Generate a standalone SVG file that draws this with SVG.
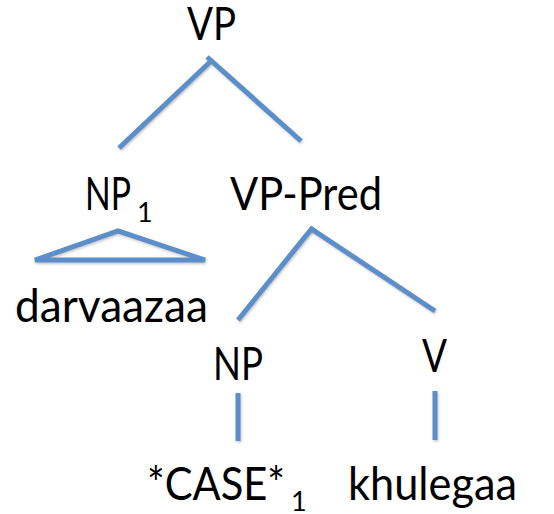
<svg xmlns="http://www.w3.org/2000/svg" width="554" height="514" viewBox="0 0 554 514">
  <style>
    .lbl { font-family: Lato, "Open Sans", "Liberation Sans", sans-serif; font-size: 46px; fill: #000; }
    .sub { font-size: 27px; }
    .edge { stroke: #5B8FC9; stroke-width: 5; fill: none; stroke-linecap: butt; filter: url(#shadow); }
  </style>
  <defs>
    <!-- soft drop shadow under the branches; user-space region so straight vertical lines keep it -->
    <filter id="shadow" filterUnits="userSpaceOnUse" x="0" y="0" width="554" height="514">
      <feDropShadow dx="1" dy="1.5" stdDeviation="1" flood-color="#808080" flood-opacity="0.45"/>
    </filter>
  </defs>
  <rect width="554" height="514" fill="#fff"/>

  <g id="connectors">
    <!-- VP to its daughters -->
    <line class="edge" x1="119" y1="148" x2="210" y2="62"/>
    <line class="edge" x1="207" y1="57" x2="301" y2="141"/>
    <!-- NP1 triangle -->
    <path class="edge" d="M35 260 L118 231 L205 260 Z" stroke-linejoin="miter"/>
    <!-- VP-Pred to its daughters -->
    <line class="edge" x1="238" y1="320" x2="313" y2="227"/>
    <line class="edge" x1="310" y1="228" x2="435" y2="311"/>
    <!-- unary branches -->
    <line class="edge" x1="238" y1="393" x2="238" y2="441"/>
    <line class="edge" x1="435" y1="391" x2="435" y2="440"/>
  </g>

  <g id="node-vp">
    <text class="lbl" x="187" y="40" textLength="49" lengthAdjust="spacingAndGlyphs">VP</text>
  </g>
  <g id="node-np1">
    <text class="lbl" x="85" y="210"><tspan textLength="46" lengthAdjust="spacingAndGlyphs">NP</tspan><tspan class="sub" x="137" dy="12">1</tspan></text>
  </g>
  <g id="node-vp-pred">
    <text class="lbl" x="230" y="210" textLength="152" lengthAdjust="spacingAndGlyphs">VP-Pred</text>
  </g>
  <g id="leaf-darvaazaa">
    <text class="lbl" x="15" y="322" textLength="193" lengthAdjust="spacingAndGlyphs">darvaazaa</text>
  </g>
  <g id="node-np">
    <text class="lbl" x="213" y="380" textLength="50" lengthAdjust="spacingAndGlyphs">NP</text>
  </g>
  <g id="node-v">
    <text class="lbl" x="422" y="372" textLength="25" lengthAdjust="spacingAndGlyphs">V</text>
  </g>
  <g id="leaf-case">
    <text class="lbl" x="147" y="500"><tspan textLength="138" lengthAdjust="spacingAndGlyphs">*CASE*</tspan><tspan class="sub" x="291" dy="11">1</tspan></text>
  </g>
  <g id="leaf-khulegaa">
    <text class="lbl" x="348" y="500" textLength="169" lengthAdjust="spacingAndGlyphs">khulegaa</text>
  </g>
</svg>
